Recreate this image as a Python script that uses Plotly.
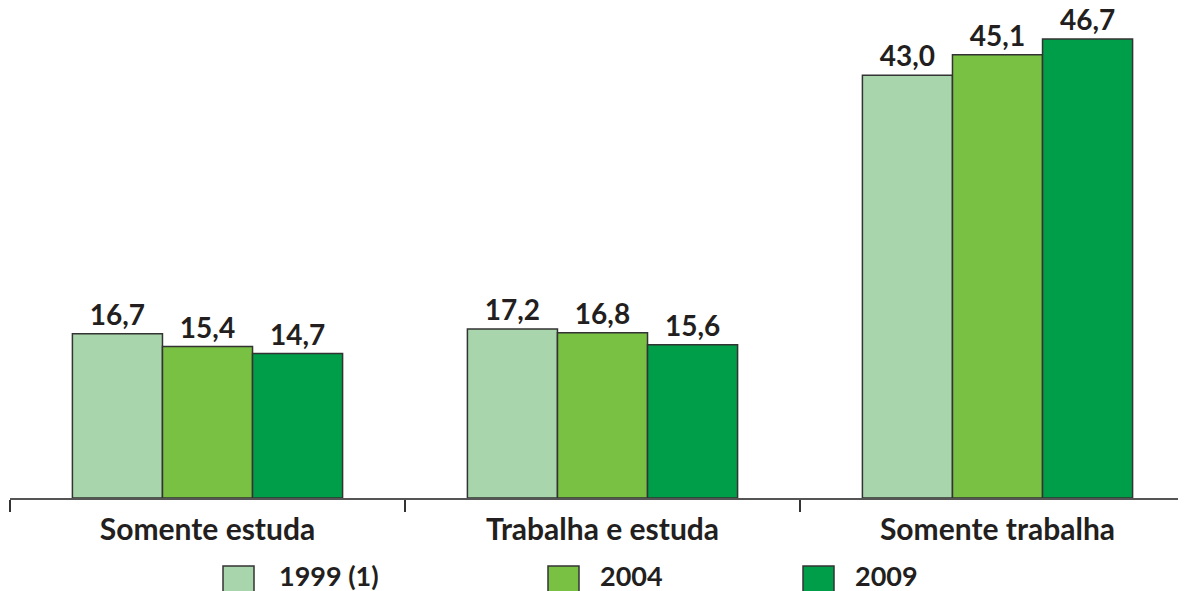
import plotly.graph_objects as go

categories = ["Somente estuda", "Trabalha e estuda", "Somente trabalha"]
series_names = ["1999 (1)", "2004", "2009"]
values_1999 = [16.7, 17.2, 43.0]
values_2004 = [15.4, 16.8, 45.1]
values_2009 = [14.7, 15.6, 46.7]
colors = ["#a8d5ab", "#79c143", "#009e49"]

series_values = [values_1999, values_2004, values_2009]

FONT = "Lato"
TXT = "#231f20"
OFF = 8  # browser default body margin
W, H = 1186 - OFF, 591 - OFF
ML, MR, MT, MB = 10 - OFF, 0, 0, 93
PW, PH = W - ML - MR, H - MT - MB

fig = go.Figure()
for name, vals, col in zip(series_names, series_values, colors):
    fig.add_trace(go.Bar(
        x=categories, y=vals, name=name,
        marker=dict(color=col, line=dict(color="#333333", width=1.5)),
        text=[f"{v:.1f}".replace(".", ",") for v in vals],
        textposition="outside",
        textfont=dict(family=FONT, size=28, color=TXT, weight="bold"),
        constraintext="none",
        cliponaxis=False,
        showlegend=False,
    ))

def px_x(px):
    # px in page pixels
    return (px - OFF - ML) / PW

def px_y(py):
    return (MT + PH - (py - OFF)) / PH

# manual legend (page pixel positions)
legend_sq_left = [223, 548, 803]
legend_txt_left = [279, 600, 855]
shapes = []
annotations = []
for name, col, sx, tx in zip(series_names, colors, legend_sq_left, legend_txt_left):
    shapes.append(dict(type="rect", xref="paper", yref="paper",
                       x0=px_x(sx), x1=px_x(sx + 31), y0=px_y(598), y1=px_y(566),
                       fillcolor=col, line=dict(color="#333333", width=1.5)))
    annotations.append(dict(xref="paper", yref="paper", x=px_x(tx - 2), y=px_y(575),
                            xanchor="left", yanchor="middle", text=name, showarrow=False,
                            font=dict(family=FONT, size=27, color=TXT, weight="bold")))

cat_w = 395.0
fig.update_layout(
    width=W, height=H,
    margin=dict(l=ML, r=MR, t=MT, b=MB, autoexpand=False),
    plot_bgcolor="white", paper_bgcolor="white",
    barmode="group", bargap=0.316, bargroupgap=0,
    shapes=shapes, annotations=annotations,
    showlegend=False,
    xaxis=dict(
        type="category", range=[-0.5, -0.5 + PW / cat_w],
        showline=True, linecolor="#555555", linewidth=1.5,
        ticks="outside", tickson="boundaries", ticklen=12, tickwidth=1.5, tickcolor="#333333",
        tickfont=dict(family=FONT, size=30, color=TXT, weight="bold"),
        ticklabelstandoff=4,
        showgrid=False, zeroline=False,
    ),
    yaxis=dict(range=[0, PH / 9.83], visible=False, showgrid=False, zeroline=False),
)

fig.write_html("out.html")
